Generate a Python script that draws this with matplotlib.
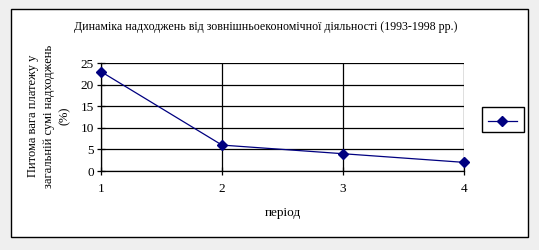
import matplotlib
matplotlib.use("Agg")
import matplotlib.pyplot as plt
from matplotlib.patches import Rectangle
from matplotlib.lines import Line2D

periods = [1, 2, 3, 4]
share = [23, 6, 4, 2]
yticks = [0, 5, 10, 15, 20, 25]

title = "Динаміка надходжень від зовнішньоекономічної діяльності (1993-1998 рр.)"
ylabel = "Питома вага платежу у\nзагальній сумі надходжень\n(%)"
xlabel = "період"

W, H = 539, 250
plt.rcParams['font.family'] = ['Liberation Serif', 'DejaVu Serif']
fig = plt.figure(figsize=(W / 100, H / 100), dpi=100, facecolor='#efefef')

# chart area frame
fig.patches.append(Rectangle((11 / W, 1 - 237 / H), (528 - 11) / W, (237 - 9) / H,
                             transform=fig.transFigure, facecolor='white',
                             edgecolor='black', linewidth=1.0, zorder=-10))

ax = fig.add_axes([101 / W, 1 - 171 / H, (464 - 101) / W, (171 - 63) / H])
ax.set_zorder(1)
ax.set_facecolor('none')
navy = '#000080'
ax.plot(periods, share, color=navy, linewidth=0.9, marker='D', markersize=5,
        markerfacecolor=navy, markeredgecolor=navy, clip_on=False, zorder=3)
ax.set_xlim(1, 4)
ax.set_ylim(0, 25)
ax.set_xticks(periods)
ax.set_yticks(yticks)
ax.grid(True, color='black', linewidth=0.9)
for s in ['top', 'right']:
    ax.spines[s].set_visible(False)
for s in ['left', 'bottom']:
    ax.spines[s].set_linewidth(0.9)
ax.tick_params(axis='both', direction='inout', length=6, width=0.9, labelsize=9.5)
ax.tick_params(axis='x', pad=6)
ax.tick_params(axis='y', pad=2)

fig.text(266 / W, 1 - 27 / H, title, ha='center', va='center', fontsize=8.6)
fig.text(283 / W, 1 - 213 / H, xlabel, ha='center', va='center', fontsize=9.5)
fig.text(49 / W, 1 - 116 / H, ylabel, ha='center', va='center', rotation=90,
         fontsize=9, linespacing=1.45, multialignment='center')

# legend
fig.patches.append(Rectangle((482 / W, 1 - 132 / H), (524 - 482) / W, (132 - 107) / H,
                             transform=fig.transFigure, facecolor='white',
                             edgecolor='black', linewidth=1.0))
fig.lines.append(Line2D([488 / W, 517 / W], [1 - 121 / H, 1 - 121 / H],
                        transform=fig.transFigure, color=navy, linewidth=0.9))
fig.lines.append(Line2D([502 / W], [1 - 121 / H], transform=fig.transFigure,
                        color=navy, marker='D', markersize=5))

fig.savefig('out.png', dpi=100, facecolor=fig.get_facecolor())
